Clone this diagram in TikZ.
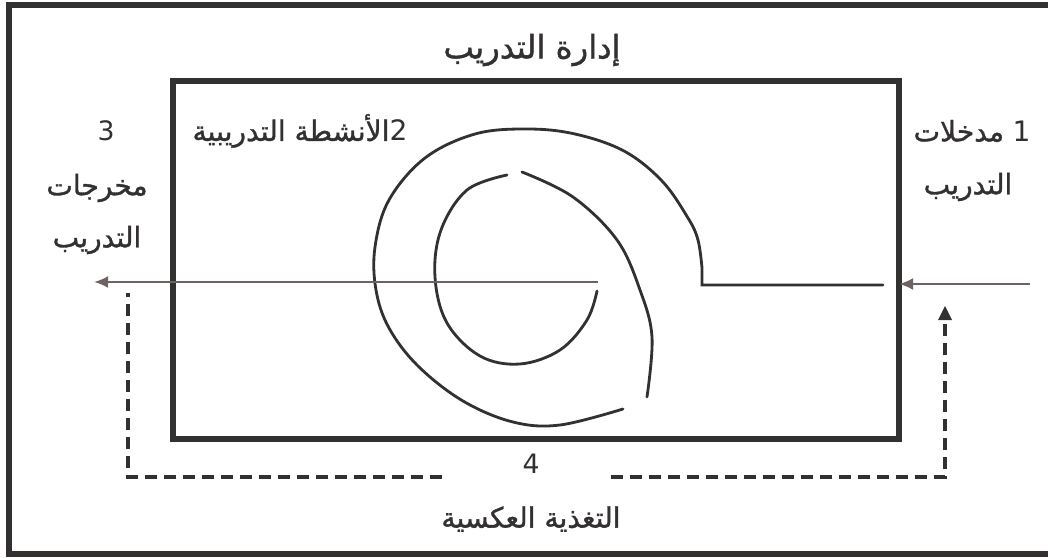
\documentclass[tikz,border=0pt]{standalone}
\usepackage{fontspec}
\usetikzlibrary{arrows.meta}
\TeXXeTstate=1
\newfontfamily\arabicfont[Script=Arabic,FakeBold=1.2]{DejaVu Sans}
\newfontfamily\digitfont{DejaVu Sans}
\definecolor{ink}{HTML}{333030}
\definecolor{flow}{HTML}{6E6363}
\begin{document}
\begin{tikzpicture}[x=0.025cm,y=-0.025cm,
  frame/.style={draw=ink,line width=4.2pt},
  boxline/.style={draw=ink,line width=3.6pt},
  curve/.style={draw=ink,line width=2pt,line cap=round},
  flowline/.style={draw=flow,line width=1.6pt},
  fb/.style={draw=ink,line width=2.4pt,dash pattern=on 8.5pt off 5pt},
  lbl/.style={text=ink,font=\arabicfont\fontsize{20}{24}\selectfont,inner sep=0pt},
  num/.style={text=ink,font=\digitfont\fontsize{19}{23}\selectfont,inner sep=0pt},
  tip/.style={-{Latex[length=10pt,width=8.5pt]}}]
\useasboundingbox (0,0) rectangle (1048,558);
% outer frame (open on the right)
\draw[frame] (1060,5) -- (9,5) -- (9,554) -- (1060,554);
% inner rectangle
\draw[boxline] (173,81) rectangle (899,439);
\coordinate (boxE) at (899,284);
% labels
\node[lbl,font=\arabicfont\fontsize{23}{27}\selectfont] (title) at (532,50) {\hbox{\beginR إدارة التدريب\endR}};
\node[lbl] (act) at (300,131) {\hbox{\beginR الأنشطة التدريبية\endR}\hbox{\digitfont 2}};
\node[num] (n3) at (106,131) {3};
\node[lbl] (out1) at (97,188) {\hbox{\beginR مخرجات\endR}};
\node[lbl] (out2) at (97,240) {\hbox{\beginR التدريب\endR}};
\node[lbl] (in1) at (972,131) {\hbox{\beginR مدخلات\endR}\hspace{6pt}\hbox{\digitfont 1}};
\node[lbl] (in2) at (968,187) {\hbox{\beginR التدريب\endR}};
\node[num] (n4) at (531,464) {4};
\node[lbl] (fbl) at (531,519) {\hbox{\beginR التغذية العكسية\endR}};
% coordinates for connectors
\coordinate (inStart) at (1030,284);
\coordinate (inEnd) at (883,285);
\coordinate (spJoin) at (702,285);
\coordinate (center) at (598,282);
\coordinate (outTip) at (94,282);
\coordinate (fbR) at (945,310);
\coordinate (fbRB) at (945,477);
\coordinate (fbRM) at (611,477);
\coordinate (fbLM) at (442,477);
\coordinate (fbLB) at (128,477);
\coordinate (fbL) at (128,293);
% input arrow
\draw[flowline,tip] (inStart) -- (boxE);
% connection into spiral + outer arc
\draw[curve] (inEnd) -- (spJoin) -- plot[smooth,tension=0.6] coordinates {(702,268)(698,240)(688,218)(662,181)(624,151)(575,134)(527,129)(475,134)(425,158)(389,200)(375,247)(376,290)(389,328)(418,366)(463,401)(513,422)(560,425)(623,409)};
% middle arc
\draw[curve] plot[smooth,tension=0.6] coordinates {(522,172)(573,197)(617,240)(640,290)(652,337)(647,397)};
% inner arc
\draw[curve] plot[smooth,tension=0.6] coordinates {(507,175)(467,190)(441,230)(435,277)(447,323)(480,356)(520,364)(560,350)(587,320)(597,291)};
% output arrow
\draw[flowline,tip] (center) -- (outTip);
% feedback dashed loop
\draw[fb] (fbLM) -- (fbLB) -- (fbL);
\draw[fb] (fbRM) -- (fbRB) -- (fbR);
\fill[ink] (fbR) ++(0,-4) -- ++(-7,14) -- ++(14,0) -- cycle;
\end{tikzpicture}
\end{document}
